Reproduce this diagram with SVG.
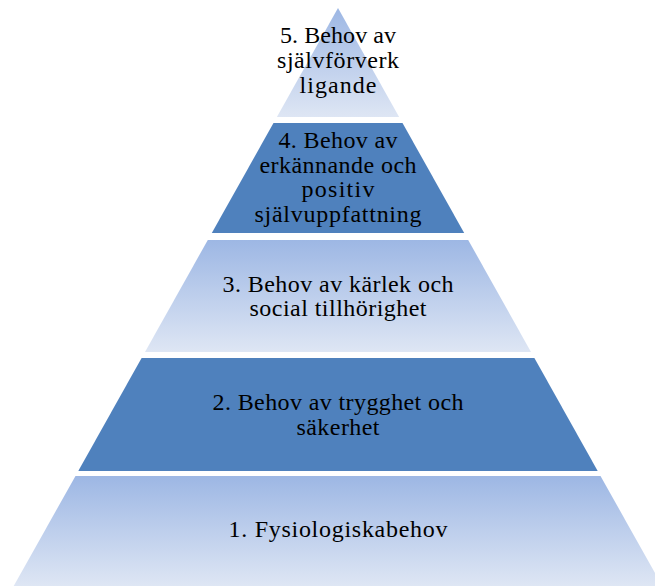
<svg xmlns="http://www.w3.org/2000/svg" width="655" height="586" viewBox="0 0 655 586">
  <style>
    .light { fill: url(#lightGrad); }
    .dark { fill: #4F81BD; }
    text { font-family: "Liberation Serif", "Times New Roman", serif; font-size: 24px; fill: #000000; text-anchor: middle; }
  </style>
  <defs>
    <linearGradient id="lightGrad" x1="0" y1="0" x2="0" y2="1">
      <stop offset="0" stop-color="#9DB7E4"/>
      <stop offset="1" stop-color="#DEE6F4"/>
    </linearGradient>
  </defs>
  <rect width="655" height="586" fill="#FFFFFF"/>
  <g id="level5">
    <polygon class="light" points="338,8 399.1,117 276.9,117"/>
    <text x="338" y="43" textLength="116" lengthAdjust="spacing">5. Behov av</text>
    <text x="338" y="68" textLength="122" lengthAdjust="spacing">självförverk</text>
    <text x="338" y="93" textLength="77" lengthAdjust="spacing">ligande</text>
  </g>
  <g id="level4">
    <polygon class="dark" points="273.5,123 402.5,123 464.2,233 211.8,233"/>
    <text x="338" y="148" textLength="119" lengthAdjust="spacing">4. Behov av</text>
    <text x="338" y="173" textLength="157" lengthAdjust="spacing">erkännande och</text>
    <text x="338" y="197" textLength="73" lengthAdjust="spacing">positiv</text>
    <text x="338" y="222" textLength="167" lengthAdjust="spacing">självuppfattning</text>
  </g>
  <g id="level3">
    <polygon class="light" points="207.8,240 468.2,240 531,352 145,352"/>
    <text x="338" y="292" textLength="231" lengthAdjust="spacing">3. Behov av kärlek och</text>
    <text x="338" y="316" textLength="177" lengthAdjust="spacing">social tillhörighet</text>
  </g>
  <g id="level2">
    <polygon class="dark" points="141.6,358 534.4,358 597.7,471 78.3,471"/>
    <text x="338" y="410" textLength="251" lengthAdjust="spacing">2. Behov av trygghet och</text>
    <text x="338" y="435" textLength="83" lengthAdjust="spacing">säkerhet</text>
  </g>
  <g id="level1">
    <polygon class="light" points="75.5,476 600.5,476 662.3,586 13.7,586"/>
    <text x="338" y="537" textLength="219" lengthAdjust="spacing">1. Fysiologiskabehov</text>
  </g>
</svg>
